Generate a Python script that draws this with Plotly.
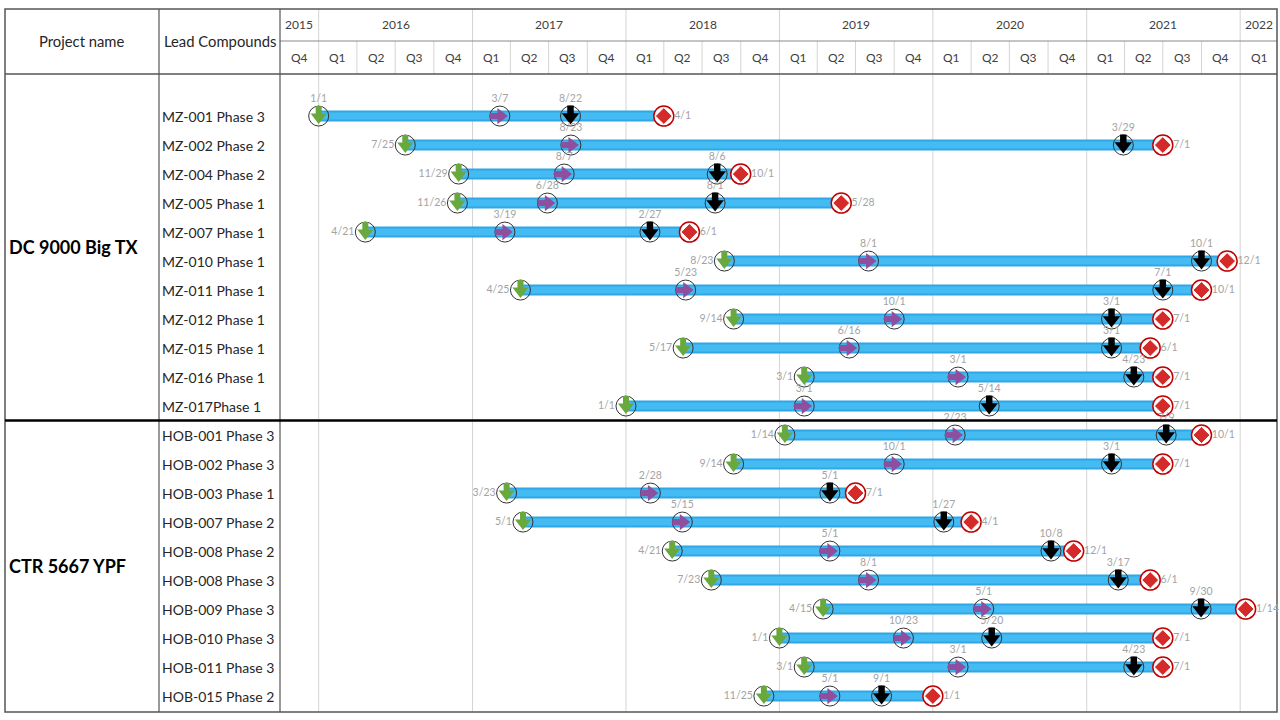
import plotly.graph_objects as go
import pandas as pd

# ---------------- data ----------------
projects = ["DC 9000 Big TX", "CTR 5667 YPF"]
group_sizes = [11, 10]

compounds = [
    "MZ-001 Phase 3", "MZ-002 Phase 2", "MZ-004 Phase 2", "MZ-005 Phase 1",
    "MZ-007 Phase 1", "MZ-010 Phase 1", "MZ-011 Phase 1", "MZ-012 Phase 1",
    "MZ-015 Phase 1", "MZ-016 Phase 1", "MZ-017Phase 1",
    "HOB-001 Phase 3", "HOB-002 Phase 3", "HOB-003 Phase 1", "HOB-007 Phase 2",
    "HOB-008 Phase 2", "HOB-008 Phase 3", "HOB-009 Phase 3", "HOB-010 Phase 3",
    "HOB-011 Phase 3", "HOB-015 Phase 2",
]
start_dates = [
    "2016-01-01", "2016-07-25", "2016-11-29", "2016-11-26", "2016-04-21",
    "2018-08-23", "2017-04-25", "2018-09-14", "2018-05-17", "2019-03-01",
    "2018-01-01",
    "2019-01-14", "2018-09-14", "2017-03-23", "2017-05-01", "2018-04-21",
    "2018-07-23", "2019-04-15", "2019-01-01", "2019-03-01", "2018-11-25",
]
milestone1_dates = [
    "2017-03-07", "2017-08-23", "2017-08-07", "2017-06-28", "2017-03-19",
    "2019-08-01", "2018-05-23", "2019-10-01", "2019-06-16", "2020-03-01",
    "2019-03-01",
    "2020-02-23", "2019-10-01", "2018-02-28", "2018-05-15", "2019-05-01",
    "2019-08-01", "2020-05-01", "2019-10-23", "2020-03-01", "2019-05-01",
]
milestone2_dates = [
    "2017-08-22", "2021-03-29", "2018-08-06", "2018-08-01", "2018-02-27",
    "2021-10-01", "2021-07-01", "2021-03-01", "2021-03-01", "2021-04-23",
    "2020-05-14",
    "2021-07-09", "2021-03-01", "2019-05-01", "2020-01-27", "2020-10-08",
    "2021-03-17", "2021-09-30", "2020-05-20", "2021-04-23", "2019-09-01",
]
end_dates = [
    "2018-04-01", "2021-07-01", "2018-10-01", "2019-05-28", "2018-06-01",
    "2021-12-01", "2021-10-01", "2021-07-01", "2021-06-01", "2021-07-01",
    "2021-07-01",
    "2021-10-01", "2021-07-01", "2019-07-01", "2020-04-01", "2020-12-01",
    "2021-06-01", "2022-01-14", "2021-07-01", "2021-07-01", "2020-01-01",
]
years = [2015, 2016, 2017, 2018, 2019, 2020, 2021, 2022]
quarter_names = ["Q1", "Q2", "Q3", "Q4"]

X_START = pd.Timestamp("2015-10-01")
X_END = pd.Timestamp("2022-04-01")

# ---------------- layout geometry (pixels) ----------------
W, H = 1280, 720
TBL_L, COL1, COL2, TBL_R = 5, 159, 280, 1277
TOP, HDR_MID, HDR_BOT, BOT = 9, 41, 74, 712
X_AX_R = 1278
Y_TOP, Y_BOT = -1.45, 20.55

def px(x):
    return x / W

def py(y):
    return 1 - y / H

days_per_px = (X_END - X_START).days / (X_AX_R - COL2)
rows_per_px = (Y_BOT - Y_TOP) / (BOT - HDR_BOT)

def shift_x(dates, pixels):
    return [d + pd.to_timedelta(pixels * days_per_px, unit="D") for d in dates]

rows = list(range(len(compounds)))
s_d = pd.to_datetime(start_dates)
m1_d = pd.to_datetime(milestone1_dates)
m2_d = pd.to_datetime(milestone2_dates)
e_d = pd.to_datetime(end_dates)

def lab(ds):
    return [f"{d.month}/{d.day}" for d in ds]

GREEN = "#68a83c"
PURPLE = "#8e4f9e"
BLACK = "#000000"
RED = "#d42a2a"
BAR_OUT = "#2fa6e6"
BAR_IN = "#45bbf4"
LABEL = "#a3a3a3"
FONT = "Lato"

fig = go.Figure()

# bars
bx, by = [], []
for s, e, r in zip(s_d, e_d, rows):
    bx += [s, e, None]
    by += [r, r, None]
fig.add_trace(go.Scatter(x=bx, y=by, mode="lines", line=dict(color=BAR_OUT, width=11)))
fig.add_trace(go.Scatter(x=bx, y=by, mode="lines", line=dict(color=BAR_IN, width=7)))

def circle(dates, fill, line_color, lw):
    fig.add_trace(go.Scatter(
        x=list(dates), y=rows, mode="markers",
        marker=dict(symbol="circle", size=20, color=fill,
                    line=dict(color=line_color, width=lw))))

def down_arrow(dates, color, scale=1.0):
    fig.add_trace(go.Scatter(
        x=list(dates), y=[r - 4.5 * rows_per_px for r in rows], mode="markers",
        marker=dict(symbol="line-ns", size=8 * scale, color=color,
                    line=dict(color=color, width=6 * scale))))
    fig.add_trace(go.Scatter(
        x=list(dates), y=[r + 1.0 * rows_per_px for r in rows], mode="markers",
        marker=dict(symbol="triangle-down", size=14 * scale, color=color,
                    line=dict(width=0))))

def right_arrow(dates, color):
    fig.add_trace(go.Scatter(
        x=shift_x(dates, -4.5), y=rows, mode="markers",
        marker=dict(symbol="line-ew", size=8, color=color,
                    line=dict(color=color, width=6))))
    fig.add_trace(go.Scatter(
        x=shift_x(dates, 1.0), y=rows, mode="markers",
        marker=dict(symbol="triangle-right", size=14, color=color,
                    line=dict(width=0))))

# start (green)
circle(s_d, "rgba(0,0,0,0)", "#333333", 1)
down_arrow(s_d, GREEN)
# milestone 1 (purple)
circle(m1_d, "rgba(0,0,0,0)", "#333333", 1)
right_arrow(m1_d, PURPLE)
# milestone 2 (black)
circle(m2_d, "rgba(0,0,0,0)", "#333333", 1)
down_arrow(m2_d, BLACK, 1.08)
# end (red)
circle(e_d, "#ffffff", "#c00000", 1.5)
fig.add_trace(go.Scatter(
    x=list(e_d), y=rows, mode="markers",
    marker=dict(symbol="diamond", size=13, color=RED, line=dict(color="#ffffff", width=1))))

# date labels
def labels(dates, pos, size):
    fig.add_trace(go.Scatter(
        x=list(dates), y=rows, mode="markers+text", text=lab(dates), textposition=pos,
        textfont=dict(family=FONT, size=10.5, color=LABEL), cliponaxis=False,
        marker=dict(size=size, color="rgba(0,0,0,0)")))

# start labels go on the left, unless there is no room before the chart's left edge
first_year = pd.Timestamp(f"{years[1]}-01-01")
start_pos = ["top center" if (d - first_year).days < 20 else "middle left" for d in s_d]
labels(s_d, start_pos, 16)
labels(m1_d, "top center", 17)
labels(m2_d, "top center", 17)
labels(e_d, "middle right", 15)

# ---------------- table / header ----------------
shapes = []
DARK = "#555555"
LIGHT = "#d4d4d4"

def line_paper(x0, y0, x1, y1, color, width):
    shapes.append(dict(type="line", xref="paper", yref="paper",
                       x0=px(x0), y0=py(y0), x1=px(x1), y1=py(y1),
                       line=dict(color=color, width=width), layer="below"))

# year boundary lines (header + chart)
for yv in years[1:]:
    d = pd.Timestamp(f"{yv}-01-01")
    shapes.append(dict(type="line", xref="x", yref="paper", x0=d, x1=d,
                       y0=py(BOT), y1=py(TOP), line=dict(color=LIGHT, width=1), layer="below"))
# quarter lines in header
qstarts = pd.date_range(X_START, X_END, freq="QS")
for d in qstarts:
    if d == X_START or d == X_END or d.month == 1:
        continue
    shapes.append(dict(type="line", xref="x", yref="paper", x0=d, x1=d,
                       y0=py(HDR_BOT), y1=py(HDR_MID), line=dict(color=LIGHT, width=1), layer="below"))

line_paper(COL2, HDR_MID, TBL_R, HDR_MID, "#8a8a8a", 1)
line_paper(TBL_L, HDR_BOT, TBL_R, HDR_BOT, DARK, 1.5)
line_paper(COL1, TOP, COL1, BOT, DARK, 1.2)
line_paper(COL2, TOP, COL2, BOT, DARK, 1.2)
shapes.append(dict(type="rect", xref="paper", yref="paper",
                   x0=px(TBL_L), y0=py(BOT), x1=px(TBL_R), y1=py(TOP),
                   line=dict(color=DARK, width=1.5), layer="below"))
# group separators
sep_rows = []
acc = 0
for g in group_sizes[:-1]:
    acc += g
    sep_rows.append(acc - 0.5)
for sr in sep_rows:
    shapes.append(dict(type="line", xref="paper", yref="y", x0=px(TBL_L), x1=px(TBL_R),
                       y0=sr, y1=sr, line=dict(color="#000000", width=2.5)))

annotations = []
TXT = "#262626"

def ann(**kw):
    kw.setdefault("showarrow", False)
    kw.setdefault("xanchor", "center")
    kw.setdefault("yanchor", "middle")
    annotations.append(kw)

ann(text="Project name", xref="paper", yref="paper",
    x=px((TBL_L + COL1) / 2), y=py((TOP + HDR_BOT) / 2 - 1),
    font=dict(family=FONT, size=14.8, color=TXT))
ann(text="Lead Compounds", xref="paper", yref="paper",
    x=px((COL1 + COL2) / 2), y=py((TOP + HDR_BOT) / 2 - 1),
    font=dict(family=FONT, size=14.8, color=TXT))
for yv in years:
    a = max(pd.Timestamp(f"{yv}-01-01"), X_START)
    b = min(pd.Timestamp(f"{yv + 1}-01-01"), X_END)
    ann(text=str(yv), xref="x", yref="paper", x=a + (b - a) / 2,
        y=py((TOP + HDR_MID) / 2), font=dict(family=FONT, size=12, color="#404040"))
for d in qstarts[:-1]:
    e = d + pd.offsets.QuarterBegin(startingMonth=1)
    ann(text=quarter_names[(d.month - 1) // 3], xref="x", yref="paper",
        x=d + (e - d) / 2, y=py((HDR_MID + HDR_BOT) / 2),
        font=dict(family=FONT, size=12, color="#404040"))
for c, r in zip(compounds, rows):
    ann(text=c, xref="paper", yref="y", x=px(COL1 + 1), y=r, xanchor="left",
        font=dict(family=FONT, size=14, color=TXT))
bounds = [Y_TOP] + sep_rows + [Y_BOT]
for i, p in enumerate(projects):
    ann(text=f"<b>{p}</b>", xref="paper", yref="y", x=px(TBL_L + 2),
        y=(bounds[i] + bounds[i + 1]) / 2, xanchor="left",
        font=dict(family=FONT, size=18, color="#000000"))

fig.update_layout(
    width=W, height=H, margin=dict(l=0, r=0, t=0, b=0),
    paper_bgcolor="white", plot_bgcolor="white", showlegend=False,
    xaxis=dict(type="date", range=[X_START, X_END], domain=[px(COL2), px(X_AX_R)],
               visible=False, showgrid=False, zeroline=False),
    yaxis=dict(range=[Y_BOT, Y_TOP], domain=[py(BOT), py(HDR_BOT)],
               visible=False, showgrid=False, zeroline=False),
    shapes=shapes, annotations=annotations, hovermode=False,
)
fig.write_html("out.html")
